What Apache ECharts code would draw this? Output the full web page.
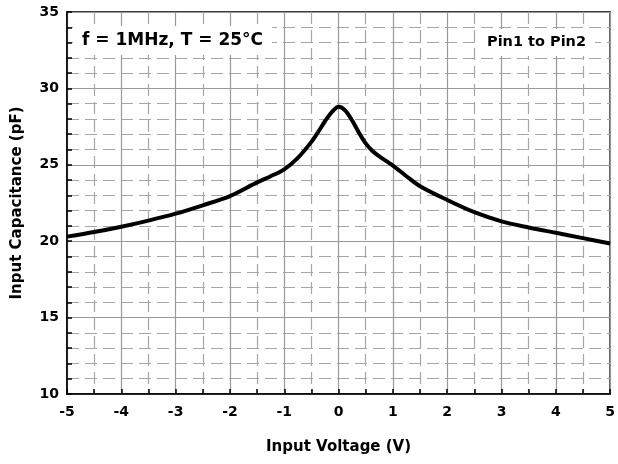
<!DOCTYPE html>
<html>
<head>
<meta charset="utf-8">
<script src="https://cdn.jsdelivr.net/npm/echarts@6/dist/echarts.min.js"></script>
<style>
  html, body { margin: 0; padding: 0; background: #fff; }
  #chart { width: 618px; height: 464px; }
</style>
</head>
<body>
<div id="chart"></div>
<script>
// input voltage (V) and capacitance (pF)
const voltage = [-5, -4.5, -4, -3.5, -3, -2.5, -2, -1.5, -1.25, -1, -0.75, -0.5, -0.375, -0.25, -0.125, 0,
                 0.125, 0.25, 0.375, 0.5, 0.625, 0.75, 1, 1.25, 1.5, 2, 2.5, 3, 3.5, 4, 4.5, 5];
const capacitance = [20.3, 20.6, 20.95, 21.35, 21.8, 22.35, 22.95, 23.85, 24.25, 24.7, 25.45, 26.5, 27.15, 27.85, 28.45, 28.8,
                     28.55, 27.9, 27.1, 26.4, 25.9, 25.55, 24.95, 24.25, 23.6, 22.7, 21.9, 21.3, 20.9, 20.55, 20.2, 19.85];

const xTicks = {min: -5, max: 5, step: 1};
const yTicks = {min: 10, max: 35, step: 5};

const FONT = '"DejaVu Sans", sans-serif';

let chart = echarts.init(document.getElementById('chart'), null, {renderer: 'canvas'});

const gridSolid = {show: true, lineStyle: {color: '#999', width: 1.2, type: 'solid'}};
const gridDash = {show: true, lineStyle: {color: '#a6a6a6', width: 1.2, type: [12, 6]}};

chart.setOption({
    animation: false,
    backgroundColor: '#fff',
    title: [
        {
            text: 'f = 1MHz, T = 25°C',
            left: 73,
            top: 26,
            padding: [6, 9],
            backgroundColor: '#fff',
            textStyle: {fontFamily: FONT, fontSize: 17, fontWeight: 'bold', color: '#000'}
        },
        {
            text: 'Pin1 to Pin2',
            left: 478,
            top: 29,
            padding: [6, 9],
            backgroundColor: '#fff',
            textStyle: {fontFamily: FONT, fontSize: 14.5, fontWeight: 'bold', color: '#000'}
        }
    ],
    grid: {
        left: 67, right: 5, top: 12, bottom: 70,
        show: true, borderColor: '#000', borderWidth: 1.5, backgroundColor: 'transparent'
    },
    xAxis: {
        type: 'value',
        min: xTicks.min, max: xTicks.max, interval: xTicks.step,
        name: 'Input Voltage (V)',
        nameLocation: 'middle',
        nameGap: 46,
        nameTextStyle: {fontFamily: FONT, fontSize: 15, fontWeight: 'bold', color: '#000'},
        axisLine: {show: true, onZero: false, lineStyle: {color: '#000', width: 1.5}},
        axisTick: {show: true, inside: true, length: 5, lineStyle: {color: '#000', width: 1.5}},
        minorTick: {show: true, splitNumber: 2, length: 5, lineStyle: {color: '#000', width: 1.5}},
        axisLabel: {fontFamily: FONT, fontSize: 14, fontWeight: 'bold', color: '#000', margin: 11},
        splitLine: gridSolid,
        minorSplitLine: gridDash
    },
    yAxis: {
        type: 'value',
        min: yTicks.min, max: yTicks.max, interval: yTicks.step,
        name: 'Input Capacitance (pF)',
        nameLocation: 'middle',
        nameGap: 42,
        nameTextStyle: {fontFamily: FONT, fontSize: 15, fontWeight: 'bold', color: '#000'},
        axisLine: {show: true, onZero: false, lineStyle: {color: '#000', width: 1.5}},
        axisTick: {show: true, inside: true, length: 5, lineStyle: {color: '#000', width: 1.5}},
        minorTick: {show: true, splitNumber: 5, length: 5, lineStyle: {color: '#000', width: 1.5}},
        axisLabel: {fontFamily: FONT, fontSize: 14, fontWeight: 'bold', color: '#000', margin: 8},
        splitLine: gridSolid,
        minorSplitLine: gridDash
    },
    series: [{
        type: 'line',
        data: voltage.map((v, i) => [v, capacitance[i]]),
        smooth: 0.3,
        showSymbol: false,
        clip: true,
        lineStyle: {color: '#000', width: 4}
    }]
});
</script>
</body>
</html>
